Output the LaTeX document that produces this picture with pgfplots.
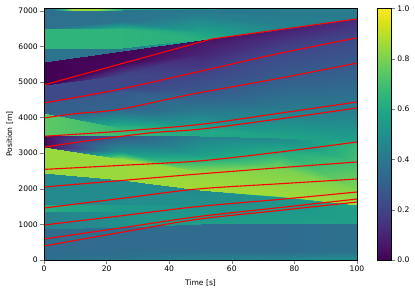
\documentclass[border=0pt]{standalone}
\usepackage{pgfplots}
\pgfplotsset{compat=1.18}
\usepackage{fontspec}
\setmainfont{DejaVu Sans}
\pgfplotstableread{
t y c
0 0 0.35
0 250 0.35
0 870 0.35
0 871 0.44
0 1345 0.44
0 1355 0.62
0 1540 0.62
0 1555 0.47
0 2430 0.47
0 2440 0.85
0 3175 0.85
0 3185 0.02
0 3505 0.02
0 3515 0.75
0 4115 0.75
0 4125 0.30
0 4400 0.30
0 4410 0.22
0 4910 0.22
0 4915 0.0
0 5565 0.0
0 5575 0.38
0 5955 0.38
0 5965 0.65
0 6520 0.65
0 6530 0.37
0 6990 0.37
0 7070 0.37
25 0 0.39
25 250 0.35
25 940 0.35
25 941 0.50
25 1370 0.51
25 1380 0.54
25 1560 0.54
25 1570 0.49
25 2245 0.48
25 2255 0.85
25 2850 0.85
25 3050 0.50
25 3495 0.28
25 3505 0.68
25 3700 0.66
25 4260 0.31
25 4750 0.28
25 4800 0.22
25 5200 0.21
25 5519 0.02
25 5870 0.0
25 5880 0.38
25 5950 0.38
25 5960 0.65
25 6480 0.65
25 6700 0.38
25 6990 0.38
25 7070 0.38
50 0 0.43
50 250 0.35
50 1000 0.35
50 1001 0.56
50 1400 0.52
50 1410 0.52
50 1560 0.50
50 1570 0.50
50 1960 0.48
50 1970 0.86
50 2470 0.84
50 2950 0.56
50 3485 0.43
50 3495 0.60
50 3680 0.60
50 4200 0.40
50 4700 0.28
50 5250 0.20
50 5800 0.10
50 6095 0.06
50 6180 0.02
50 6190 0.65
50 6200 0.64
50 6210 0.63
50 6400 0.58
50 6900 0.42
50 6990 0.40
50 7070 0.40
75 0 0.46
75 250 0.35
75 1030 0.35
75 1031 0.56
75 1430 0.53
75 1440 0.53
75 1530 0.52
75 1540 0.52
75 1775 0.52
75 1785 0.86
75 2590 0.80
75 3030 0.62
75 3415 0.47
75 3425 0.58
75 3500 0.57
75 4300 0.40
75 5100 0.29
75 5800 0.22
75 6150 0.15
75 6460 0.08
75 6465 0.08
75 6475 0.45
75 6485 0.45
75 6495 0.45
75 6600 0.44
75 6950 0.41
75 6990 0.41
75 7070 0.41
100 0 0.50
100 250 0.37
100 1040 0.37
100 1041 0.57
100 1460 0.56
100 1470 0.56
100 1500 0.58
100 1510 0.58
100 1540 0.60
100 1550 0.86
100 2000 0.81
100 2753 0.70
100 3310 0.66
100 3320 0.57
100 3400 0.56
100 4300 0.41
100 5000 0.33
100 6240 0.22
100 6500 0.17
100 6760 0.12
100 6765 0.12
100 6775 0.41
100 6785 0.41
100 6795 0.41
100 6850 0.41
100 6950 0.41
100 6990 0.41
100 7070 0.41
}\field
\pgfplotstableread{
t y c
3 7020 0.40
3 7070 0.40
9 7015 0.85
9 7070 0.85
17 7015 0.85
17 7070 0.85
25 7030 0.62
25 7070 0.62
55 7040 0.48
55 7070 0.45
}\strip
\begin{document}
\fontsize{7.6}{9}\selectfont
\begin{tikzpicture}[font=\fontsize{7.6}{9}\selectfont]
\useasboundingbox (-44pt,-32pt) rectangle (371pt,260pt);
\begin{axis}[
  at={(0,0)}, anchor=south west,
  scale only axis, width=313pt, height=251.7pt,
  xmin=0, xmax=100, ymin=0, ymax=7070,
  xtick={0,20,40,60,80,100}, ytick={0,1000,2000,3000,4000,5000,6000,7000},
  tick align=outside, tick pos=left, major tick length=3.5pt,
  /pgf/number format/assume math mode=true,
  /pgf/number format/1000 sep={},
  scaled ticks=false,
  xlabel={Time [s]}, ylabel={Position [m]},
  xlabel style={yshift=-2pt},
  axis on top,
  colormap/viridis,
  point meta min=0, point meta max=1,
  colorbar,
  colorbar style={
    width=14pt,
    at={(parent axis.north east)}, anchor=north west, xshift=11.5pt,
    ytick={0,0.2,0.4,0.6,0.8,1},
    yticklabel style={/pgf/number format/.cd,fixed,fixed zerofill,precision=1,assume math mode=true},
    ytick pos=right, yticklabel pos=right,
    tick align=outside, major tick length=3.5pt,
  },
]
\addplot[surf, shader=interp, point meta=explicit, mesh/rows=5, mesh/cols=28] table[x=t, y=y, meta=c] {\field};
\addplot[surf, shader=interp, point meta=explicit, mesh/rows=5, mesh/cols=2] table[x=t, y=y, meta=c] {\strip};
\addplot[red, line width=1.1pt] coordinates {(0,4916) (25,5519) (53.6,6208) (75,6467) (100,6770)};
\addplot[red, line width=1.1pt, smooth, tension=0.5] coordinates {(0,4410) (23,4775) (48,5262) (75,5800) (100,6240)};
\addplot[red, line width=1.1pt, smooth, tension=0.5] coordinates {(0,3990) (10,4110) (24,4230) (48,4670) (75,5100) (100,5530)};
\addplot[red, line width=1.1pt, smooth, tension=0.5] coordinates {(0,3475) (25,3620) (50,3810) (75,4120) (100,4438)};
\addplot[red, line width=1.1pt, smooth, tension=0.5] coordinates {(0,3170) (10,3300) (20,3420) (35,3580) (50,3675) (75,3960) (100,4270)};
\addplot[red, line width=1.1pt, smooth, tension=0.5] coordinates {(0,2545) (25,2660) (50,2785) (75,3030) (100,3315)};
\addplot[red, line width=1.1pt, smooth, tension=0.5] coordinates {(0,2051) (25,2235) (50,2420) (75,2590) (100,2753)};
\addplot[red, line width=1.1pt, smooth, tension=0.5] coordinates {(0,1461) (25,1733) (49,1994) (75,2140) (100,2275)};
\addplot[red, line width=1.1pt, smooth, tension=0.5] coordinates {(0,983) (25,1245) (49,1500) (75,1700) (100,1910)};
\addplot[red, line width=1.1pt, smooth, tension=0.5] coordinates {(0,590) (25,907) (49,1217) (75,1470) (100,1713)};
\addplot[red, line width=1.1pt, smooth, tension=0.5] coordinates {(0,393) (25,782) (49,1143) (75,1390) (100,1629)};
\end{axis}
\end{tikzpicture}
\end{document}
